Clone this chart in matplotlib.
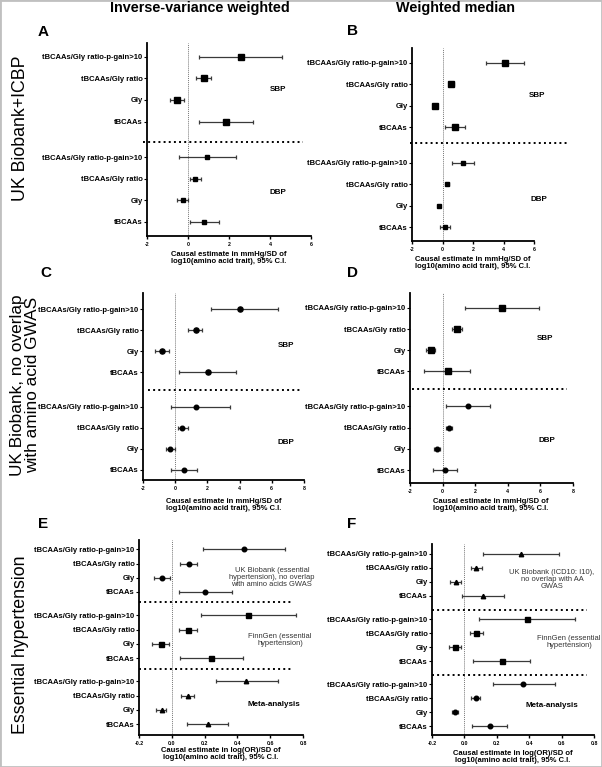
import matplotlib
matplotlib.use("Agg")
import matplotlib.pyplot as plt
from matplotlib.patches import Rectangle

plt.rcParams['font.family'] = ['Liberation Sans', 'DejaVu Sans']

# ---------------- data ----------------
row_labels = ["tBCAAs", "Gly", "tBCAAs/Gly ratio", "tBCAAs/Gly ratio-p-gain>10"]  # bottom -> top in each group

# Panel A (IVW, UK Biobank+ICBP)
A_SBP_est = [1.87, -0.54, 0.76, 2.57]
A_SBP_lo = [0.54, -0.89, 0.41, 0.54]
A_SBP_hi = [3.17, -0.21, 1.14, 4.60]
A_DBP_est = [0.76, -0.24, 0.36, 0.94]
A_DBP_lo = [0.11, -0.52, 0.11, -0.46]
A_DBP_hi = [1.51, 0.00, 0.62, 2.36]
# Panel B (WM, UK Biobank+ICBP)
B_SBP_est = [0.79, -0.48, 0.57, 4.07]
B_SBP_lo = [0.13, -0.60, 0.44, 2.84]
B_SBP_hi = [1.45, -0.38, 0.73, 5.30]
B_DBP_est = [0.18, -0.26, 0.31, 1.32]
B_DBP_lo = [-0.20, -0.33, 0.20, 0.62]
B_DBP_hi = [0.51, -0.20, 0.42, 2.04]
# Panel C (IVW, UK Biobank no overlap)
C_SBP_est = [2.02, -0.82, 1.28, 4.00]
C_SBP_lo = [0.25, -1.26, 0.78, 2.23]
C_SBP_hi = [3.75, -0.37, 1.69, 6.39]
C_DBP_est = [0.52, -0.31, 0.45, 1.28]
C_DBP_lo = [-0.29, -0.58, 0.20, -0.29]
C_DBP_hi = [1.38, -0.02, 0.78, 3.40]
# Panel D (WM, UK Biobank no overlap)
D_SBP_est = [0.31, -0.74, 0.89, 3.65]
D_SBP_lo = [-1.13, -1.03, 0.56, 1.38]
D_SBP_hi = [1.69, -0.45, 1.22, 5.94]
D_DBP_est = [0.16, -0.33, 0.37, 1.55]
D_DBP_lo = [-0.60, -0.52, 0.19, 0.19]
D_DBP_hi = [0.89, -0.19, 0.60, 2.93]
# Panel E (IVW, essential hypertension)
E_UKB_est = [0.202, -0.059, 0.102, 0.441]
E_UKB_lo = [0.043, -0.108, 0.049, 0.192]
E_UKB_hi = [0.369, -0.008, 0.153, 0.688]
E_FG_est = [0.241, -0.067, 0.096, 0.467]
E_FG_lo = [0.049, -0.118, 0.043, 0.176]
E_FG_hi = [0.437, -0.016, 0.155, 0.759]
E_META_est = [0.218, -0.061, 0.096, 0.453]
E_META_lo = [0.094, -0.094, 0.059, 0.269]
E_META_hi = [0.345, -0.033, 0.135, 0.647]
# Panel F (WM, essential hypertension)
F_UKB_est = [0.116, -0.053, 0.071, 0.347]
F_UKB_lo = [-0.014, -0.086, 0.041, 0.114]
F_UKB_hi = [0.245, -0.024, 0.108, 0.584]
F_FG_est = [0.231, -0.055, 0.071, 0.384]
F_FG_lo = [0.053, -0.092, 0.033, 0.092]
F_FG_hi = [0.408, -0.018, 0.114, 0.680]
F_META_est = [0.155, -0.057, 0.071, 0.359]
F_META_lo = [0.047, -0.076, 0.043, 0.176]
F_META_hi = [0.261, -0.039, 0.098, 0.557]

bp_ticks = [-2, 0, 2, 4, 6]
bp_ticks8 = [-2, 0, 2, 4, 6, 8]
or_ticks = [-0.2, 0.0, 0.2, 0.4, 0.6, 0.8]

xlabel_bp = "Causal estimate in mmHg/SD of\nlog10(amino acid trait), 95% C.I."
xlabel_or = "Causal estimate in log(OR)/SD of\nlog10(amino acid trait), 95% C.I."

# ---------------- layout helpers ----------------
W, H = 602, 767
fig = plt.figure(figsize=(W / 100, H / 100), dpi=100)


def fx(x):
    return x / W


def fy(y):
    return 1 - y / H


def add_ax(left, right, top, bottom):
    return fig.add_axes([fx(left), fy(bottom), (right - left) / W, (bottom - top) / H])


def style_ax(ax, xlim, ylim, xticks, xfmt, positions):
    ax.set_xlim(*xlim)
    ax.set_ylim(*ylim)
    for s in ['top', 'right']:
        ax.spines[s].set_visible(False)
    for s in ['left', 'bottom']:
        ax.spines[s].set_linewidth(1.3)
    ax.spines['bottom'].set_bounds(xticks[0], xticks[-1])
    ax.set_xticks(xticks)
    ax.set_xticklabels([xfmt(t) for t in xticks], fontsize=3.8, fontweight='bold')
    ax.tick_params(axis='x', length=2.5, width=1.0, pad=1.5)
    ax.set_yticks(positions)
    ax.set_yticklabels(row_labels * (len(positions) // 4), fontsize=5.5, fontweight='bold')
    ax.tick_params(axis='y', length=2.2, width=0.8, pad=1)
    ax.axvline(0, color='#777777', lw=0.7, ls=(0, (1, 1)), zorder=1)
    ax.patch.set_alpha(0)


def draw_group(ax, pos, est, lo, hi, marker, ms):
    xerr = [[e - l for e, l in zip(est, lo)], [h - e for e, h in zip(est, hi)]]
    ax.errorbar(est, pos, xerr=xerr, fmt=marker, color='black', ecolor='#3a3a3a',
                elinewidth=0.9, capsize=1.6, capthick=0.9, markersize=ms, zorder=3)


def sep(ax, y, x0, x1):
    ax.plot([x0, x1], [y, y], ls=':', color='black', lw=1.4, clip_on=False, zorder=2)


bp_fmt = lambda t: f"{t:d}"
or_fmt = lambda t: f"{t:.1f}"

pos_lo = [0, 1, 2, 3]
pos_hi = [4.65, 5.65, 6.65, 7.65]

# ---------------- Panel A ----------------
axA = add_ax(147, 311, 43, 236)
style_ax(axA, (-2, 6), (-0.65, 8.29), bp_ticks, bp_fmt, pos_lo + pos_hi)
draw_group(axA, pos_hi, A_SBP_est, A_SBP_lo, A_SBP_hi, 's', 3.8)
draw_group(axA, pos_lo, A_DBP_est, A_DBP_lo, A_DBP_hi, 's', 3.3)
sep(axA, 3.7, -2.2, 5.6)
axA.text(4.4, 6.15, "SBP", fontsize=5.8, fontweight='bold', ha='center', va='center')
axA.text(4.4, 1.35, "DBP", fontsize=5.8, fontweight='bold', ha='center', va='center')

# ---------------- Panel B ----------------
axB = add_ax(412, 568, 48, 241)
style_ax(axB, (-2, 8.2), (-0.65, 8.33), bp_ticks, bp_fmt, pos_lo + pos_hi)
draw_group(axB, pos_hi, B_SBP_est, B_SBP_lo, B_SBP_hi, 's', 3.8)
draw_group(axB, pos_lo, B_DBP_est, B_DBP_lo, B_DBP_hi, 's', 2.2)
sep(axB, 3.9, -2.1, 8.2)
axB.text(6.2, 6.1, "SBP", fontsize=5.8, fontweight='bold', ha='center', va='center')
axB.text(6.3, 1.3, "DBP", fontsize=5.8, fontweight='bold', ha='center', va='center')

# ---------------- Panel C ----------------
axC = add_ax(143, 304, 293, 480)
style_ax(axC, (-2, 8), (-0.48, 8.43), bp_ticks8, bp_fmt, pos_lo + pos_hi)
draw_group(axC, pos_hi, C_SBP_est, C_SBP_lo, C_SBP_hi, 'o', 3.7)
draw_group(axC, pos_lo, C_DBP_est, C_DBP_lo, C_DBP_hi, 'o', 3.3)
sep(axC, 3.8, -1.7, 7.8)
axC.text(6.9, 5.95, "SBP", fontsize=5.8, fontweight='bold', ha='center', va='center')
axC.text(6.9, 1.3, "DBP", fontsize=5.8, fontweight='bold', ha='center', va='center')

# ---------------- Panel D ----------------
axD = add_ax(410, 573, 293, 483)
style_ax(axD, (-2, 8), (-0.61, 8.35), bp_ticks8, bp_fmt, pos_lo + pos_hi)
draw_group(axD, pos_hi, D_SBP_est, D_SBP_lo, D_SBP_hi, 's', 3.7)
draw_group(axD, pos_lo, D_DBP_est, D_DBP_lo, D_DBP_hi, 'o', 3.3)
sep(axD, 3.82, -1.9, 7.63)
axD.text(6.3, 6.2, "SBP", fontsize=5.8, fontweight='bold', ha='center', va='center')
axD.text(6.4, 1.4, "DBP", fontsize=5.8, fontweight='bold', ha='center', va='center')

# ---------------- Panel E ----------------
posE = [0, 1, 2, 3, 4.65, 5.65, 6.65, 7.65, 9.3, 10.3, 11.3, 12.3]
axE = add_ax(139, 303, 540, 735)
style_ax(axE, (-0.2, 0.8), (-0.77, 12.96), or_ticks, or_fmt, posE)
draw_group(axE, posE[8:], E_UKB_est, E_UKB_lo, E_UKB_hi, 'o', 3.3)
draw_group(axE, posE[4:8], E_FG_est, E_FG_lo, E_FG_hi, 's', 3.6)
draw_group(axE, posE[:4], E_META_est, E_META_lo, E_META_hi, '^', 3.2)
sep(axE, 3.9, -0.2, 0.74)
sep(axE, 8.6, -0.2, 0.74)
axE.text(0.61, 10.35, "UK Biobank (essential\nhypertension), no overlap\nwith amino acids GWAS",
         fontsize=5.4, color='#333333', ha='center', va='center', linespacing=1.0)
axE.text(0.66, 5.9, "FinnGen (essential\nhypertension)",
         fontsize=5.4, color='#333333', ha='center', va='center', linespacing=1.0)
axE.text(0.62, 1.35, "Meta-analysis", fontsize=5.8, fontweight='bold', ha='center', va='center')

# ---------------- Panel F ----------------
posF = [0, 1, 2, 3, 4.64, 5.64, 6.64, 7.64, 9.29, 10.29, 11.29, 12.29]
axF = add_ax(432, 594, 544, 735)
style_ax(axF, (-0.2, 0.8), (-0.64, 13.0), or_ticks, or_fmt, posF)
draw_group(axF, posF[8:], F_UKB_est, F_UKB_lo, F_UKB_hi, '^', 3.2)
draw_group(axF, posF[4:8], F_FG_est, F_FG_lo, F_FG_hi, 's', 3.6)
draw_group(axF, posF[:4], F_META_est, F_META_lo, F_META_hi, 'o', 3.3)
sep(axF, 3.64, -0.2, 0.757)
sep(axF, 8.29, -0.2, 0.757)
axF.text(0.54, 10.5, "UK Biobank (ICD10: I10),\nno overlap with AA\nGWAS",
         fontsize=5.4, color='#333333', ha='center', va='center', linespacing=1.0)
axF.text(0.645, 6.0, "FinnGen (essential\nhypertension)",
         fontsize=5.4, color='#333333', ha='center', va='center', linespacing=1.0)
axF.text(0.54, 1.45, "Meta-analysis", fontsize=5.8, fontweight='bold', ha='center', va='center')

# ---------------- x labels ----------------
for cx, cy, txt in [(229, 258, xlabel_bp), (473, 263, xlabel_bp),
                    (224, 505, xlabel_bp), (491, 505, xlabel_bp),
                    (221, 754, xlabel_or), (513, 757, xlabel_or)]:
    fig.text(fx(cx), fy(cy), txt, fontsize=5.5, fontweight='bold', ha='center', va='center',
             linespacing=1.05)

# ---------------- titles, letters, row labels ----------------
fig.text(fx(200), fy(8), "Inverse-variance weighted", fontsize=10.4, fontweight='bold',
         ha='center', va='center')
fig.text(fx(456), fy(8), "Weighted median", fontsize=10.4, fontweight='bold',
         ha='center', va='center')
for x, y, t in [(43, 32, "A"), (352, 31, "B"), (46, 273, "C"), (352, 273, "D"),
                (43, 524, "E"), (352, 524, "F")]:
    fig.text(fx(x), fy(y), t, fontsize=11, fontweight='bold', ha='center', va='center')

fig.text(fx(21), fy(128), "UK Biobank+ICBP", fontsize=12.8, rotation=90,
         ha='center', va='center')
fig.text(fx(25), fy(385), "UK Biobank, no overlap\nwith amino acid GWAS", fontsize=12.4,
         rotation=90, ha='center', va='center', linespacing=0.98)
fig.text(fx(21), fy(645), "Essential hypertension", fontsize=12.8, rotation=90,
         ha='center', va='center')

fig.patches.append(Rectangle((0, 0), 1, 1, transform=fig.transFigure, fill=False,
                             edgecolor='#c0c0c0', lw=2.0))

fig.savefig("out.png", dpi=100)
